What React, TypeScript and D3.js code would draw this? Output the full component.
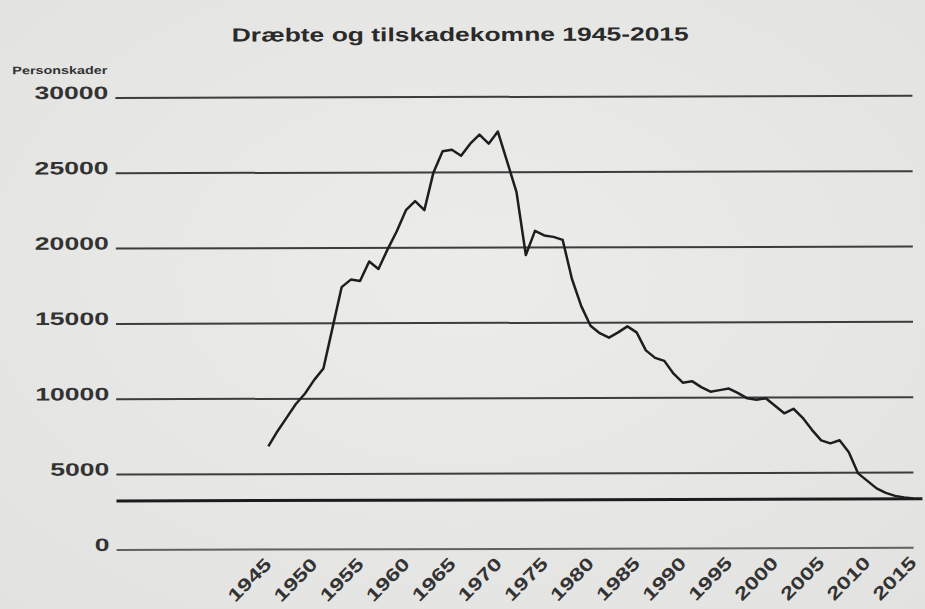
import React from "react";
import * as d3 from "d3";

const title = "Dræbte og tilskadekomne 1945-2015";
const yAxisTitle = "Personskader";

const years: number[] = [
  1945, 1946, 1947, 1948, 1949, 1950, 1951, 1952, 1953, 1954,
  1955, 1956, 1957, 1958, 1959, 1960, 1961, 1962, 1963, 1964,
  1965, 1966, 1967, 1968, 1969, 1970, 1971, 1972, 1973, 1974,
  1975, 1976, 1977, 1978, 1979, 1980, 1981, 1982, 1983, 1984,
  1985, 1986, 1987, 1988, 1989, 1990, 1991, 1992, 1993, 1994,
  1995, 1996, 1997, 1998, 1999, 2000, 2001, 2002, 2003, 2004,
  2005, 2006, 2007, 2008, 2009, 2010, 2011, 2012, 2013, 2014,
  2015,
];

const casualties: number[] = [
  6850, 7850, 8750, 9650, 10350, 11250, 12000, 14700, 17400, 17900,
  17800, 19100, 18600, 19900, 21100, 22500, 23100, 22500, 25000, 26400,
  26500, 26100, 26900, 27500, 26900, 27700, 25700, 23700, 19500, 21100,
  20800, 20700, 20500, 17900, 16100, 14800, 14300, 14000, 14350, 14750,
  14350, 13150, 12650, 12450, 11600, 11000, 11100, 10700, 10400, 10500,
  10600, 10300, 9950, 9850, 9950, 9450, 8950, 9250, 8650, 7850,
  7150, 6950, 7150, 6350, 4950, 4450, 3950, 3650, 3450, 3350,
  3270,
];

const yTicks: number[] = [0, 5000, 10000, 15000, 20000, 25000, 30000];
const xTicks: number[] = [1945, 1950, 1955, 1960, 1965, 1970, 1975, 1980, 1985, 1990, 1995, 2000, 2005, 2010, 2015];
const referenceValue = 3250;

export default function App() {
  const W = 925;
  const H = 609;
  const gridLeft = 116;
  const gridRight = 913;

  const x = d3.scaleLinear().domain([1945, 2015]).range([268, 913]);
  const y = d3.scaleLinear().domain([0, 30000]).range([549, 97]);

  const data = years.map((yr, i) => ({ yr, v: casualties[i] }));
  const line = d3
    .line<{ yr: number; v: number }>()
    .x((d) => x(d.yr))
    .y((d) => y(d.v));

  const font = "'Liberation Sans', Arial, Helvetica, sans-serif";

  return (
    <svg
      width={W}
      height={H}
      style={{ position: "absolute", left: 0, top: 0, display: "block" }}
    >
      <defs>
        <radialGradient id="paper" cx="50%" cy="45%" r="75%">
          <stop offset="0%" stopColor="#ececea" />
          <stop offset="100%" stopColor="#e2e2e0" />
        </radialGradient>
      </defs>
      <rect x={0} y={0} width={W} height={H} fill="url(#paper)" />
      <g transform="rotate(-0.15 462 320)">
        <text
          x={461}
          y={41}
          textAnchor="middle"
          fontFamily={font}
          fontWeight="bold"
          fontSize={19}
          fill="#2a2a2a"
          textLength={457}
          lengthAdjust="spacingAndGlyphs"
        >
          {title}
        </text>
        <text
          x={13}
          y={73}
          fontFamily={font}
          fontWeight="bold"
          fontSize={11}
          fill="#333"
          textLength={95}
          lengthAdjust="spacingAndGlyphs"
        >
          {yAxisTitle}
        </text>

        {yTicks.map((t) => (
          <g key={t}>
            <line
              x1={gridLeft}
              x2={gridRight}
              y1={y(t)}
              y2={y(t)}
              stroke="#2a2a2a"
              strokeWidth={2}
              strokeOpacity={t === 0 ? 0.7 : 0.9}
            />
            <text
              x={109}
              y={y(t) + 1}
              textAnchor="end"
              fontFamily={font}
              fontWeight="bold"
              fontSize={18}
              fill="#333"
              textLength={String(t).length * 14.8}
              lengthAdjust="spacingAndGlyphs"
            >
              {t}
            </text>
          </g>
        ))}

        <line
          x1={gridLeft}
          x2={922}
          y1={y(referenceValue)}
          y2={y(referenceValue)}
          stroke="#1c1c1c"
          strokeWidth={3}
        />

        {xTicks.map((t) => (
          <text
            key={t}
            transform={`translate(${x(t) + 4},${565}) rotate(-45)`}
            textAnchor="end"
            fontFamily={font}
            fontWeight="bold"
            fontSize={18}
            fill="#333"
            textLength={53}
            lengthAdjust="spacingAndGlyphs"
          >
            {t}
          </text>
        ))}

        <path
          d={line(data) || ""}
          fill="none"
          stroke="#1e1e1e"
          strokeWidth={2.5}
          strokeLinejoin="round"
        />
      </g>
    </svg>
  );
}
